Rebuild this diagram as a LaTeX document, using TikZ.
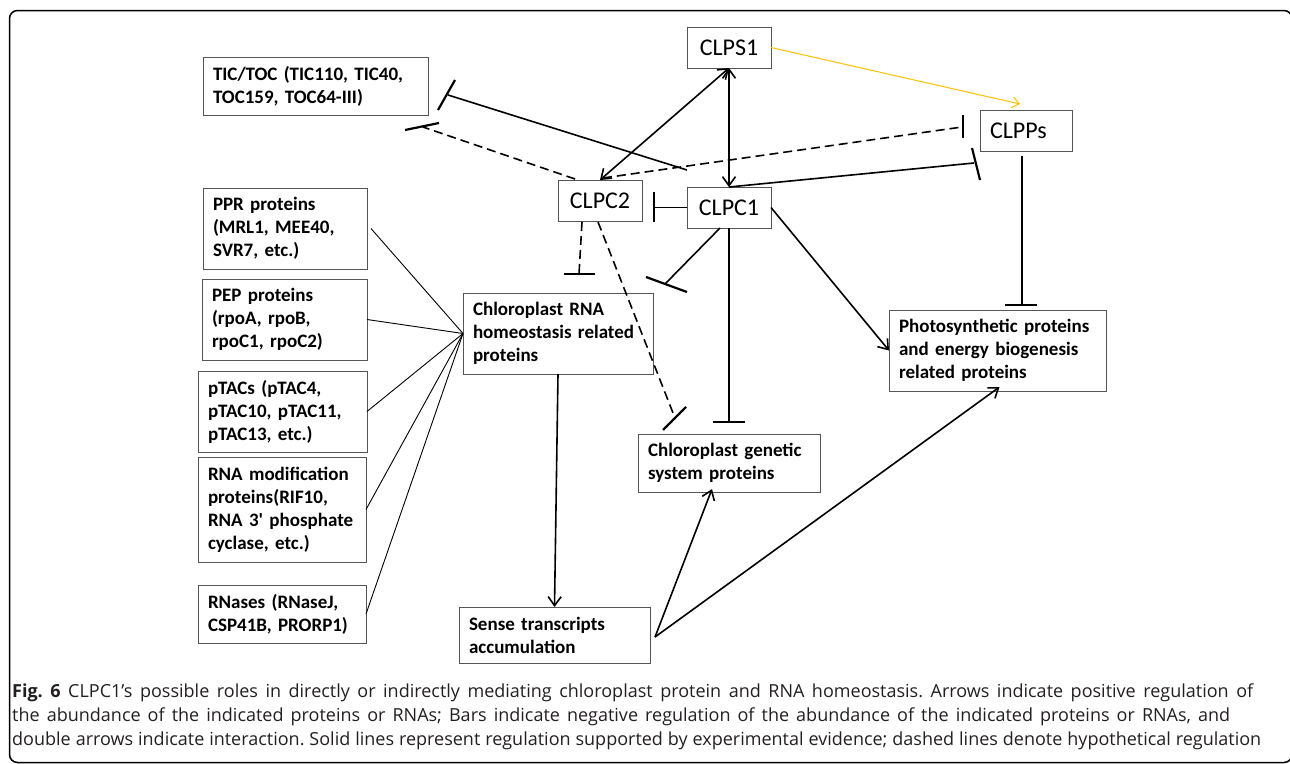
\documentclass[tikz,border=0pt]{standalone}
\usepackage{fontspec}
\setmainfont{Carlito}
\newfontfamily\capfont{Open Sans}
\usetikzlibrary{arrows.meta}
\definecolor{clpyellow}{RGB}{255,192,0}
\definecolor{boxgray}{RGB}{85,85,85}
\definecolor{captext}{RGB}{35,31,32}
\frenchspacing
\begin{document}
\begin{tikzpicture}[x=1pt,y=-1pt,
  bx/.style={draw=boxgray, line width=1pt, inner xsep=10pt, inner ysep=0pt, outer sep=0pt, align=left, font=\bfseries\fontsize{19}{23}\selectfont},
  clp/.style={draw=boxgray, line width=1pt, inner sep=0pt, outer sep=0pt, minimum width=84pt, minimum height=41pt, font=\fontsize{24}{28}\selectfont},
  conn/.style={line width=1.6pt, black},
  hyp/.style={conn, dash pattern=on 9pt off 5pt},
  barline/.style={line width=2.2pt, black, line cap=butt},
  fan/.style={line width=0.9pt, black},
  arr/.style={-{Straight Barb[length=9pt,width=13pt]}},
  darr/.style={{Straight Barb[length=9pt,width=13pt]}-{Straight Barb[length=9pt,width=13pt]}},
  yarr/.style={-{Straight Barb[length=7pt,width=11pt]}, line width=1pt, clpyellow},
  captxt/.style={inner sep=0pt, anchor=base west, text=captext, font=\capfont\fontsize{18}{24}\selectfont}
]
\useasboundingbox (0,0) rectangle (1290,763);
\begin{scope}
  \clip (0,0) rectangle (1290,763);
  \draw[line width=1.5pt, rounded corners=8pt] (9.5,10.5) rectangle (1292,762.5);
\end{scope}

% boxes
\node[bx, minimum width=225pt, minimum height=58pt, text width=205pt] (tic) at (315.5,86) {TIC/TOC (TIC110, TIC40,\\TOC159, TOC64-III)};
\node[clp] (s1) at (729,47.5) {CLPS1};
\node[clp, minimum width=92pt, text width=72pt, align=left, inner xsep=10pt] (pp) at (1026,130.5) {CLPPs};
\node[clp] (c2) at (600,200.5) {CLPC2};
\node[clp] (c1) at (729,207.5) {CLPC1};
\node[bx, minimum width=164pt, minimum height=81pt, text width=144pt] (ppr) at (285,228.5) {PPR proteins\\(MRL1, MEE40,\\SVR7, etc.)};
\node[bx, minimum width=165pt, minimum height=81pt, text width=145pt] (pep) at (284.5,319.5) {PEP proteins\\(rpoA, rpoB,\\rpoC1, rpoC2)};
\node[bx, minimum width=169pt, minimum height=81pt, text width=149pt] (ptac) at (282.5,411.5) {pTACs (pTAC4,\\pTAC10, pTAC11,\\pTAC13, etc.)};
\node[bx, minimum width=168pt, minimum height=105pt, text width=148pt] (rmod) at (282,509.5) {RNA modification\\proteins(RIF10,\\RNA 3\textquotesingle{} phosphate\\cyclase, etc.)};
\node[bx, minimum width=168pt, minimum height=58pt, text width=148pt] (rnase) at (282,614) {RNases (RNaseJ,\\CSP41B, PRORP1)};
\node[bx, minimum width=190pt, minimum height=81pt, text width=170pt] (rna) at (558,333.5) {Chloroplast RNA\\homeostasis related\\proteins};
\node[bx, minimum width=191pt, minimum height=56pt, text width=171pt] (sense) at (554.5,635) {Sense transcripts\\accumulation};
\node[bx, minimum width=182pt, minimum height=58pt, text width=162pt] (gen) at (729,463) {Chloroplast genetic\\system proteins};
\node[bx, minimum width=217pt, minimum height=81pt, text width=197pt] (photo) at (997.5,350.5) {Photosynthetic proteins\\and energy biogenesis\\related proteins};

% free ends and bar coordinates
\coordinate (c1tic) at (687,170);
\coordinate (tice) at (448,95);
\coordinate (ticb1) at (438,110); \coordinate (ticb2) at (455,80);
\coordinate (c2tic) at (575,179);
\coordinate (ticd) at (423,127);
\coordinate (ticdb1) at (405,130); \coordinate (ticdb2) at (439,123);
\coordinate (c2pp) at (603,178);
\coordinate (ppd) at (962,127);
\coordinate (ppdb1) at (963,115); \coordinate (ppdb2) at (963,138);
\coordinate (pps) at (974,163);
\coordinate (ppsb1) at (972,148); \coordinate (ppsb2) at (980,180);
\coordinate (c2e) at (654,207.5);
\coordinate (c2eb1) at (654,192); \coordinate (c2eb2) at (654,222);
\coordinate (c2ra) at (582,222);
\coordinate (rnad) at (579,274);
\coordinate (rnadb1) at (564,274); \coordinate (rnadb2) at (595,274);
\coordinate (c2ga) at (598,222);
\coordinate (gend) at (675,418);
\coordinate (gendb1) at (663,430); \coordinate (gendb2) at (686,407);
\coordinate (c1ra) at (720,228);
\coordinate (rnas) at (665,284);
\coordinate (rnasb1) at (646,277); \coordinate (rnasb2) at (687,292);
\coordinate (gens) at (729,422);
\coordinate (gensb1) at (713,422); \coordinate (gensb2) at (745,422);
\coordinate (ppv) at (1022,156);
\coordinate (photov) at (1022,305);
\coordinate (photovb1) at (1005,305); \coordinate (photovb2) at (1037,305);
\coordinate (sensep) at (655,637);
\coordinate (yel) at (1020,104);

% interactions
\draw[conn, darr] (s1) -- (c1);
\draw[conn, darr] (s1.south) -- (c2.north);
% yellow
\draw[yarr] (s1.east) -- (yel);
% inhibitions
\draw[conn] (c1tic) -- (tice); \draw[barline] (ticb1) -- (ticb2);
\draw[hyp] (c2tic) -- (ticd); \draw[barline] (ticdb1) -- (ticdb2);
\draw[hyp] (c2pp) -- (ppd); \draw[barline] (ppdb1) -- (ppdb2);
\draw[conn] (c1.north) -- (pps); \draw[barline] (ppsb1) -- (ppsb2);
\draw[conn] (c1.west) -- (c2e); \draw[barline] (c2eb1) -- (c2eb2);
\draw[hyp] (c2ra) -- (rnad); \draw[barline] (rnadb1) -- (rnadb2);
\draw[hyp] (c2ga) -- (gend); \draw[barline] (gendb1) -- (gendb2);
\draw[conn] (c1ra) -- (rnas); \draw[barline] (rnasb1) -- (rnasb2);
\draw[conn] (c1.south) -- (gens); \draw[barline] (gensb1) -- (gensb2);
\draw[conn] (ppv) -- (photov); \draw[barline] (photovb1) -- (photovb2);
% activations
\draw[conn, arr] (c1.east) -- (photo.west);
\draw[conn, arr] (rna.south) -- (sense.north);
\draw[conn, arr] (sensep) -- ([xshift=-17pt,yshift=3pt]gen.south);
\draw[conn, arr] (sensep) -- ([xshift=2pt,yshift=4pt]photo.south);
% fan
\draw[fan] ([xshift=4pt]ppr.east) -- (rna.west);
\draw[fan] (pep.east) -- (rna.west);
\draw[fan] (ptac.east) -- (rna.west);
\draw[fan] (rmod.east) -- (rna.west);
\draw[fan] (rnase.east) -- (rna.west);

% caption
\node[captxt] (cap1) at (12,697) {\makebox[1241pt][s]{\textbf{Fig.~6} CLPC1’s possible roles in directly or indirectly mediating chloroplast protein and RNA homeostasis. Arrows indicate positive regulation of}};
\node[captxt] (cap2) at (12,721) {\makebox[1218pt][s]{the abundance of the indicated proteins or RNAs; Bars indicate negative regulation of the abundance of the indicated proteins or RNAs, and}};
\node[captxt] (cap3) at (12,745) {\makebox[1249pt][s]{double arrows indicate interaction. Solid lines represent regulation supported by experimental evidence; dashed lines denote hypothetical regulation}};
\end{tikzpicture}
\end{document}
